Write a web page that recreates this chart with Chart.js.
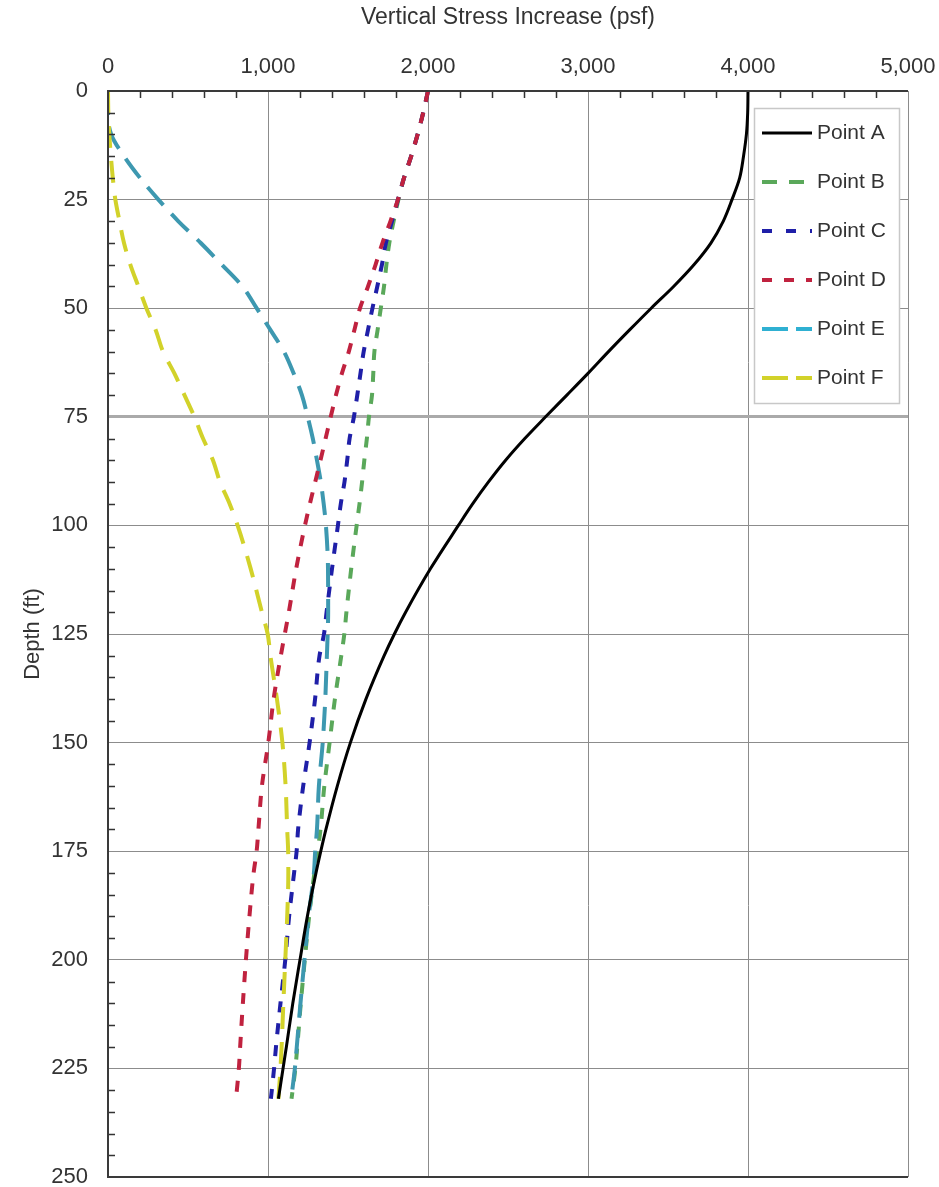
<!DOCTYPE html>
<html>
<head>
<meta charset="utf-8">
<script src="https://cdn.jsdelivr.net/npm/chart.js@4.4.1/dist/chart.umd.min.js"></script>
<style>
  html, body { margin: 0; padding: 0; background: #fff; }
</style>
</head>
<body>
<canvas id="chart" width="939" height="1187"></canvas>
<script>
// ===== DATA (depth in ft, stress in psf) =====
const depths = [0, 5, 10, 15, 20, 25, 30, 35, 40, 45, 50, 55, 60, 65, 70, 75, 80, 85, 90, 95,
  100, 110, 120, 125, 130, 140, 150, 160, 170, 175, 180, 190, 200, 210, 220, 225, 232];

const pointA = [4000, 3998, 3990, 3972, 3948, 3900, 3845, 3768, 3662, 3535, 3395, 3260, 3128, 3000, 2868, 2735, 2605, 2485, 2378, 2280,
  2190, 2015, 1860, 1790, 1726, 1612, 1515, 1433, 1362, 1330, 1300, 1246, 1200, 1155, 1115, 1094, 1065];
const pointB = [2000, 1970, 1935, 1895, 1850, 1815, 1785, 1758, 1740, 1725, 1705, 1685, 1665, 1658, 1650, 1631, 1618, 1602, 1588, 1572,
  1554, 1520, 1490, 1477, 1458, 1418, 1385, 1352, 1328, 1310, 1290, 1257, 1230, 1205, 1183, 1171, 1147];
const pointC = [2000, 1970, 1935, 1895, 1850, 1812, 1775, 1737, 1712, 1683, 1653, 1625, 1598, 1578, 1558, 1537, 1510, 1495, 1478, 1455,
  1437, 1400, 1366, 1350, 1322, 1294, 1260, 1220, 1188, 1179, 1163, 1132, 1108, 1078, 1050, 1038, 1018];
const pointD = [2000, 1970, 1935, 1895, 1850, 1812, 1765, 1715, 1672, 1625, 1575, 1540, 1505, 1462, 1425, 1392, 1360, 1328, 1295, 1262,
  1231, 1176, 1130, 1105, 1080, 1035, 1002, 962, 940, 929, 910, 884, 862, 843, 826, 818, 800];
const pointE = [0, 0, 20, 100, 200, 315, 440, 580, 712, 840, 929, 1015, 1100, 1160, 1212, 1248, 1280, 1306, 1330, 1348,
  1362, 1375, 1376, 1373, 1368, 1358, 1342, 1318, 1306, 1295, 1287, 1254, 1228, 1203, 1180, 1168, 1145];
const pointF = [0, 2, 8, 18, 30, 46, 72, 100, 140, 190, 240, 298, 344, 415, 478, 540, 594, 656, 700, 760,
  810, 892, 962, 998, 1015, 1056, 1090, 1110, 1120, 1126, 1127, 1120, 1108, 1096, 1085, 1078, 1065];

const seriesNames = ["Point A", "Point B", "Point C", "Point D", "Point E", "Point F"];
const seriesValues = [pointA, pointB, pointC, pointD, pointE, pointF];

// styles
const seriesColors = ["#000000", "#5aa85a", "#1f1fa8", "#c0223f", "#3d98b0", "#d2d22a"];
const legendColors = ["#000000", "#5aa85a", "#1f1fa8", "#c0223f", "#2fb0d2", "#d2d22a"];
const seriesDash = [[], [11, 11], [11, 11], [11, 11], [24, 12], [22, 13]];
const legendDash = [[], [15, 12], [10, 14], [10, 12], [26, 8], [26, 8]];
const seriesWidth = [3, 4, 4, 4, 4, 4];
const seriesOrder = [0, 5, 4, 1, 3, 2];

const FONT = "'Liberation Sans', Arial, sans-serif";

const datasets = seriesNames.map((name, i) => ({
  label: name,
  data: depths.map((d, k) => ({ x: seriesValues[i][k], y: d })),
  showLine: true,
  borderColor: seriesColors[i],
  backgroundColor: seriesColors[i],
  borderWidth: seriesWidth[i],
  borderDash: seriesDash[i],
  pointRadius: 0,
  cubicInterpolationMode: "monotone",
  order: seriesOrder[i]
}));

// ===== minor ticks, frame and legend box =====
const framePlugin = {
  id: "frame",
  afterDatasetsDraw(chart) {
    const { ctx, chartArea: a, scales } = chart;
    ctx.save();
    // minor ticks (inward)
    ctx.strokeStyle = "#333";
    ctx.lineWidth = 1.5;
    ctx.beginPath();
    for (let v = 200; v < 5000; v += 200) {
      if (v % 1000 === 0) continue;
      const x = Math.round(scales.x.getPixelForValue(v)) + 0.5;
      ctx.moveTo(x, a.top);
      ctx.lineTo(x, a.top + 7);
    }
    for (let d = 5; d < 250; d += 5) {
      if (d % 25 === 0) continue;
      const y = Math.round(scales.y.getPixelForValue(d)) + 0.5;
      ctx.moveTo(a.left, y);
      ctx.lineTo(a.left + 7, y);
    }
    ctx.stroke();

    // frame
    ctx.strokeStyle = "#8c8c8c";
    ctx.lineWidth = 1;
    ctx.beginPath();
    ctx.moveTo(a.right + 0.5, a.top);
    ctx.lineTo(a.right + 0.5, a.bottom);
    ctx.stroke();
    ctx.strokeStyle = "#3a3a3a";
    ctx.lineWidth = 2;
    ctx.beginPath();
    ctx.moveTo(a.right, a.top);
    ctx.lineTo(a.left, a.top);
    ctx.lineTo(a.left, a.bottom);
    ctx.lineTo(a.right, a.bottom);
    ctx.stroke();

    // legend
    const bx = a.right - 154, by = a.top + 17, bw = 145, bh = 295;
    ctx.fillStyle = "#fff";
    ctx.fillRect(bx, by, bw, bh);
    ctx.strokeStyle = "#c8c8c8";
    ctx.lineWidth = 1.5;
    ctx.strokeRect(bx + 0.5, by + 0.5, bw, bh);
    ctx.font = "21px " + FONT;
    ctx.textBaseline = "middle";
    ctx.textAlign = "left";
    chart.data.datasets.forEach((ds, i) => {
      const y = by + 25 + i * 49;
      ctx.strokeStyle = legendColors[i];
      ctx.lineWidth = ds.borderWidth;
      ctx.setLineDash(legendDash[i]);
      ctx.beginPath();
      ctx.moveTo(bx + 8, y);
      ctx.lineTo(bx + 58, y);
      ctx.stroke();
      ctx.setLineDash([]);
      ctx.fillStyle = "#333";
      ctx.fillText(ds.label, bx + 63, y);
    });
    ctx.restore();
  }
};

new Chart(document.getElementById("chart"), {
  type: "scatter",
  data: { datasets: datasets },
  options: {
    responsive: false,
    animation: false,
    indexAxis: "y",
    layout: { padding: { left: 0, right: 31, top: 0, bottom: 10 } },
    plugins: {
      legend: { display: false },
      tooltip: { enabled: false }
    },
    scales: {
      x: {
        type: "linear",
        position: "top",
        min: 0,
        max: 5000,
        afterFit: s => { s.height = 91; s.paddingLeft = 0; s.paddingRight = 0; },
        ticks: {
          stepSize: 1000,
          padding: 11,
          color: "#333",
          font: { family: FONT, size: 22 },
          callback: v => v.toLocaleString("en-US")
        },
        grid: { color: "#8c8c8c", lineWidth: 1, drawTicks: false },
        border: { display: false },
        title: {
          display: true,
          text: "Vertical Stress Increase (psf)",
          color: "#333",
          font: { family: FONT, size: 23 },
          padding: { top: 4, bottom: 0 }
        }
      },
      y: {
        type: "linear",
        reverse: true,
        min: 0,
        max: 250,
        afterFit: s => { s.width = 108; s.paddingTop = 0; s.paddingBottom = 0; },
        ticks: {
          stepSize: 25,
          padding: 20,
          color: "#333",
          font: { family: FONT, size: 22 }
        },
        grid: {
          color: c => (c.tick && c.tick.value === 75) ? "#aaaaaa" : "#8c8c8c",
          lineWidth: c => (c.tick && c.tick.value === 75) ? 3 : 1,
          drawTicks: false
        },
        border: { display: false },
        title: {
          display: true,
          text: "Depth (ft)",
          color: "#333",
          font: { family: FONT, size: 22 },
          padding: { top: 20, bottom: 0 }
        }
      }
    }
  },
  plugins: [framePlugin]
});
</script>
</body>
</html>
